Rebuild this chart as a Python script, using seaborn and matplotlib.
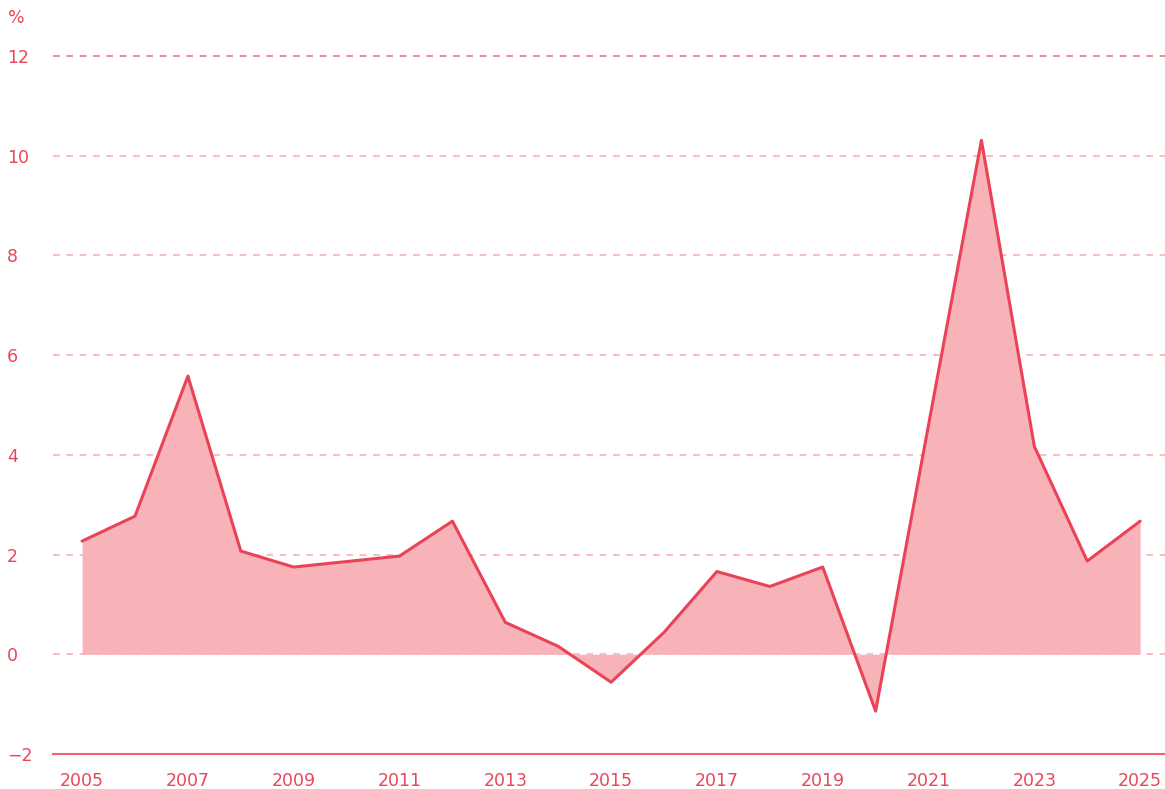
import numpy as np
import pandas as pd
import matplotlib
matplotlib.use("Agg")
import matplotlib.pyplot as plt
import seaborn as sns

# values
years = [2005, 2006, 2007, 2008, 2009, 2010, 2011, 2012, 2013, 2014, 2015,
         2016, 2017, 2018, 2019, 2020, 2021, 2022, 2023, 2024, 2025]
rate = [2.27, 2.77, 5.58, 2.07, 1.75, 1.86, 1.97, 2.67, 0.64, 0.16, -0.56,
        0.44, 1.66, 1.36, 1.75, -1.14, 4.6, 10.31, 4.17, 1.87, 2.67]
y_ticks = [-2, 0, 2, 4, 6, 8, 10, 12]
x_ticks = [2005, 2007, 2009, 2011, 2013, 2015, 2017, 2019, 2021, 2023, 2025]

df = pd.DataFrame({"year": years, "rate": rate})

RED = "#ea4257"
TEXT = "#e8465a"
FILL = "#f8b3b9"

sns.set_style("white")
plt.rcParams["font.family"] = ["DejaVu Sans"]

fig = plt.figure(figsize=(11.65, 7.89), dpi=100)
ax = fig.add_axes([53 / 1165, 1 - 754 / 789, 1 - 53 / 1165, (754 - 56) / 789])

ax.fill_between(df["year"], df["rate"], 0, color=FILL, lw=0, zorder=1)
sns.lineplot(data=df, x="year", y="rate", color=RED, lw=2.2, ax=ax, zorder=3)

# dashed gridlines on top of the fill
for t in y_ticks[1:]:
    if t == 12:
        ax.axhline(t, color="#f07684", lw=1.2, ls=(0, (4, 4)), zorder=2, clip_on=False)
    else:
        ax.axhline(t, color="#fab0b8", lw=1.2, ls=(0, (4, 4)), zorder=2)

ax.set_xlim(2004.45, 2025.47)
ax.set_ylim(-2, 12)
ax.set_xticks(x_ticks)
ax.set_yticks(y_ticks)
ax.set_yticklabels([str(t).replace("-", "\u2212") for t in y_ticks])
ax.set_xlabel("")
ax.set_ylabel("")

for s in ["top", "right", "left"]:
    ax.spines[s].set_visible(False)
ax.spines["bottom"].set_color("#f06170")
ax.spines["bottom"].set_linewidth(1.5)

ax.tick_params(axis="both", length=0, labelsize=12.5, labelcolor=TEXT)
ax.tick_params(axis="x", pad=13)
ax.tick_params(axis="y", pad=33)
for lab in ax.get_yticklabels():
    lab.set_horizontalalignment("left")

fig.text(8 / 1165, 1 - 18 / 789, "%", color=TEXT, fontsize=12.5, ha="left", va="center")

fig.savefig("out.png", dpi=100)
